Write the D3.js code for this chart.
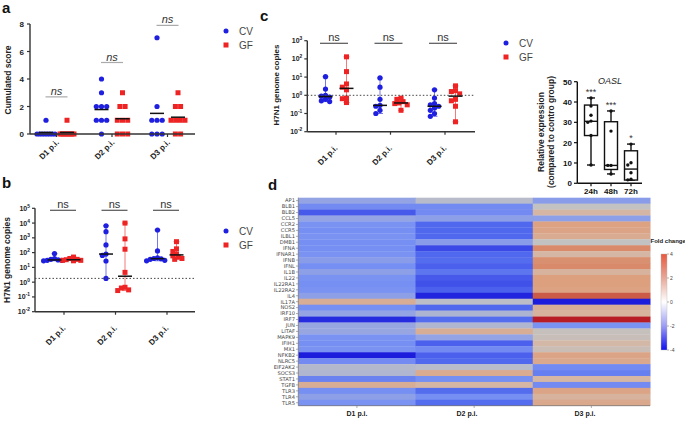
<!DOCTYPE html>
<html><head><meta charset="utf-8">
<script src="https://cdn.jsdelivr.net/npm/d3@7"></script>
<style>
body{margin:0;background:#fff;}
svg{font-family:"Liberation Sans",Arial,sans-serif;}
</style></head><body>
<svg id="chart" width="685" height="429"></svg>
<script>
// ---------------- DATA ----------------
const days = ["D1 p.i.","D2 p.i.","D3 p.i."];
const groups = ["CV","GF"];
// panel a: cumulated score
const scoreCV = [[1,0,0,0,0,0,0,0,0],[4,3,2,2,2,1,1,1,0],[7,2,1,1,1,0,0,0]];
const scoreGF = [[1,0,0,0,0,0,0,0,0],[3,2,2,1,1,1,0,0,0],[3,2,2,1,1,1,1,0,0]];
const scoreTicks = [0,2,4,6,8];
// panel b: H7N1 genome copies
const bCV = [[85,40,35,32,30,30,28],[6500,2600,330,80,65,27,1.8],[3400,130,45,40,38,35,30,28]];
const bGF = [[50,40,35,33,30,30,28],[10000,850,170,4.6,0.45,0.4,0.3,0.27],[550,180,120,80,60,50,40,35]];
const bLimit = 1.8;
// panel c: H7N1 genome copies
const cCV = [[10.5,2.2,1.0,0.9,0.8,0.6,0.5,0.45],[9,2.8,0.6,0.28,0.25,0.15,0.1],[2.0,0.7,0.35,0.3,0.25,0.2,0.15,0.1,0.07]];
const cGF = [[130,20,4.2,2.8,2.0,0.7,0.65,0.4],[0.7,0.6,0.45,0.38,0.35,0.3,0.15],[3.3,1.8,1.6,1.2,0.6,0.5,0.25,0.035]];
const cLimit = 1;
// OASL inset
const oaslTimes = ["24h","48h","72h"];
const oaslBox = [[9,23.5,30.5,38.5,42],[4.6,6.8,8.8,30.3,35.6],[1.6,1.6,7,16,19.3]]; // min,q1,median,q3,max
const oaslPts = [[42,38,33.5,30.6,30,23.5,9],[35.6,25.7,8.8,8.8,4.6],[19.3,10.1,9,5.2,2,1.7]];
const oaslStars = ["***","***","*"];
const oaslTicks = [0,10,20,30,40,50];
// panel d heatmap
const genes = ["AP1","BLB1","BLB2","CCL5","CCR2","CCR5","ILBL1","DMB1","IFNA","IFNAR1","IFNB","IFNL","IL1B","IL22","IL22RA1","IL22RA2","IL4","IL17A","NOS2","IRF10","IRF7","JUN","LITAF","MAPK9","IFIH1","MX1","NFKB2","NLRC5","EIF2AK2","SOCS3","STAT1","TGFB","TLR3","TLR4","TLR5"];
const fcD1 = [-1.3,-2.2,-3.2,-1.3,-2.0,-2.1,-2.0,-2.1,-2.1,-2.0,-1.6,-2.1,-1.5,-2.0,-2.1,-2.0,-1.5,1.4,-2.1,-1.3,-3.8,-1.2,-1.2,-2.0,-2.1,-2.0,-4.0,-2.2,-0.4,-0.5,-2.4,1.4,-2.1,-1.5,-2.0];
const fcD2 = [-0.3,-2.2,-2.2,-1.5,-3.0,-3.0,-3.0,-1.6,-3.4,-3.0,-2.9,-3.1,-2.7,-3.2,-3.3,-3.1,-3.9,-0.2,-3.0,-0.6,-2.9,-0.5,1.4,-1.3,-3.1,-2.2,-3.1,-3.0,-0.3,1.5,-2.1,1.0,-2.9,-2.1,-2.9];
const fcD3 = [-1.6,0.0,1.0,-1.5,1.9,1.8,1.5,0.0,2.4,1.0,2.3,2.4,1.2,2.0,2.0,1.9,3.2,-4.0,1.3,1.2,4.0,-2.0,0.2,0.3,0.9,0.4,1.8,1.6,-2.2,-2.5,1.0,-2.2,1.8,1.2,1.6];
const legendTicks = [4,2,0,-2,-4];

// ---------------- HELPERS ----------------
const svg = d3.select("#chart");
const blue = "#1f1fe0", red = "#ee2424", axisCol = "#333";

function panelLetter(t,x,y){
  svg.append("text").attr("x",x).attr("y",y).attr("font-size",15).attr("font-weight","bold").attr("fill","#111").text(t);
}
function legend(x,y){
  const g = svg.append("g");
  g.append("circle").attr("cx",x).attr("cy",y).attr("r",2.5).attr("fill",blue);
  g.append("rect").attr("x",x-2.5).attr("y",y+14-2.5).attr("width",5).attr("height",5).attr("fill",red);
  g.append("text").attr("x",x+13).attr("y",y+3.5).attr("font-size",10).attr("fill","#444").text("CV");
  g.append("text").attr("x",x+13).attr("y",y+17.5).attr("font-size",10).attr("fill","#444").text("GF");
}
function rowSwarm(vals,y,cx,maxW){
  const pts = vals.map(v=>({v,y:y(v)}));
  const rows = d3.groups(pts,p=>p.v);
  rows.forEach(([v,row])=>{
    const n=row.length, sp = n>1?Math.min(5.2,maxW/(n-1)):0;
    row.forEach((p,i)=>p.x=cx+(i-(n-1)/2)*sp);
  });
  return pts;
}
function greedySwarm(vals,y,cx,r,tight){
  const pts = vals.map(v=>({v,y:y(v)})).sort((a,b)=>a.y-b.y);
  const placed=[]; const s=2*r*tight, minD=2*r*tight*0.95;
  const cands=[0,-0.5,0.5,-1,1,-1.5,1.5,-2,2,-2.5,2.5,-3,3];
  pts.forEach(p=>{
    for(const c of cands){
      const x=cx+c*s;
      if(placed.every(q=>Math.hypot(q.x-x,q.y-p.y)>=minD)){p.x=x;break;}
    }
    if(p.x===undefined)p.x=cx;
    placed.push(p);
  });
  return pts;
}
function drawPoints(g,pts,kind,col){
  if(kind==="circle") g.selectAll(null).data(pts).join("circle").attr("cx",d=>d.x).attr("cy",d=>d.y).attr("r",2.6).attr("fill",col);
  else g.selectAll(null).data(pts).join("rect").attr("x",d=>d.x-2.5).attr("y",d=>d.y-2.5).attr("width",5).attr("height",5).attr("fill",col);
}
function rotLabels(x,ay,fs,dx,dy){
  days.forEach(d=>{
    svg.append("text").attr("transform",`translate(${x(d)+dx},${ay+dy}) rotate(-45)`)
      .attr("text-anchor","end").attr("font-size",fs).attr("font-weight","bold").attr("fill","#222").text(d);
  });
}
function yTitle(t,x,y,fs){
  svg.append("text").attr("transform",`translate(${x},${y}) rotate(-90)`).attr("text-anchor","middle")
    .attr("font-size",fs).attr("font-weight","bold").attr("fill","#222").text(t);
}
function logAxis(y,x0,decs,fs){
  const g=svg.append("g");
  g.append("line").attr("x1",x0).attr("x2",x0).attr("y1",y(Math.pow(10,decs[decs.length-1]))).attr("y2",y(Math.pow(10,decs[0]))).attr("stroke",axisCol).attr("stroke-width",1.4);
  decs.forEach(e=>{
    const yy=y(Math.pow(10,e));
    g.append("line").attr("x1",x0-3).attr("x2",x0).attr("y1",yy).attr("y2",yy).attr("stroke",axisCol).attr("stroke-width",1.2);
    const t=g.append("text").attr("x",x0-5).attr("y",yy+2.5).attr("text-anchor","end").attr("font-size",fs).attr("font-weight","bold").attr("fill","#222");
    t.append("tspan").text("10");
    t.append("tspan").attr("dy",-3).attr("font-size",fs*0.7).text(e);
  });
}
function xAxisLine(x0,x1,ay,ticks){
  svg.append("line").attr("x1",x0).attr("x2",x1).attr("y1",ay).attr("y2",ay).attr("stroke",axisCol).attr("stroke-width",1.4);
  ticks.forEach(t=>svg.append("line").attr("x1",t).attr("x2",t).attr("y1",ay).attr("y2",ay+3).attr("stroke",axisCol).attr("stroke-width",1.2));
}
function nsMark(cx,ly,w,italic,fs,lineCol){
  svg.append("line").attr("x1",cx-w/2).attr("x2",cx+w/2).attr("y1",ly).attr("y2",ly).attr("stroke",lineCol).attr("stroke-width",1.2);
  svg.append("text").attr("x",cx).attr("y",ly-2).attr("text-anchor","middle").attr("font-size",fs)
    .attr("font-style",italic?"italic":"normal").attr("fill","#333").text("ns");
}
function rangeBar(g,x,vals,y,col){
  const lo=y(d3.min(vals)), hi=y(d3.max(vals));
  g.append("line").attr("x1",x).attr("x2",x).attr("y1",lo).attr("y2",hi).attr("stroke",col).attr("stroke-width",1).attr("opacity",0.6);
  [lo,hi].forEach(v=>g.append("line").attr("x1",x-3).attr("x2",x+3).attr("y1",v).attr("y2",v).attr("stroke",col).attr("stroke-width",1).attr("opacity",0.6));
}
function medLine(g,x,v,w){
  g.append("line").attr("x1",x-w/2).attr("x2",x+w/2).attr("y1",v).attr("y2",v).attr("stroke","#111").attr("stroke-width",1.5);
}

// ---------------- PANEL A ----------------
panelLetter("a",2,13);
{
  const y=d3.scaleLinear().domain([0,8]).range([134,24]);
  const x=d3.scalePoint().domain(days).range([56.5,167.5]);
  const g=svg.append("g");
  g.append("line").attr("x1",30).attr("x2",30).attr("y1",y(8)).attr("y2",y(0)).attr("stroke",axisCol).attr("stroke-width",1.4);
  scoreTicks.forEach(t=>{
    g.append("line").attr("x1",27).attr("x2",30).attr("y1",y(t)).attr("y2",y(t)).attr("stroke",axisCol).attr("stroke-width",1.2);
    g.append("text").attr("x",24).attr("y",y(t)+3).attr("text-anchor","end").attr("font-size",8).attr("font-weight","bold").attr("fill","#222").text(t);
  });
  xAxisLine(30,195,134,days.map(d=>x(d)));
  days.forEach((d,i)=>{
    drawPoints(g,rowSwarm(scoreCV[i],y,x(d)-10.5,18),"circle",blue);
    drawPoints(g,rowSwarm(scoreGF[i],y,x(d)+10.5,14),"rect",red);
    medLine(g,x(d)-10.5,y(d3.mean(scoreCV[i])),14);
    medLine(g,x(d)+10.5,y(d3.mean(scoreGF[i])),14);
  });
  nsMark(x(days[0]),y(2.7),22,true,11,"#aaa");
  nsMark(x(days[1]),y(5.2),22,true,11,"#aaa");
  nsMark(x(days[2]),y(7.9),22,true,11,"#aaa");
  rotLabels(x,134,8,3,9);
  yTitle("Cumulated score",11,80,8.5);
  legend(226,31);
}

// ---------------- PANEL B ----------------
panelLetter("b",2,188);
{
  const y=d3.scaleLog().domain([1e-2,1e5]).range([311.7,208.3]);
  const x=d3.scalePoint().domain(days).range([64,167]);
  const g=svg.append("g");
  logAxis(y,35,[-2,-1,0,1,2,3,4,5],7);
  xAxisLine(35,195,311.7,days.map(d=>x(d)));
  svg.append("line").attr("x1",35).attr("x2",195).attr("y1",y(bLimit)).attr("y2",y(bLimit)).attr("stroke","#444").attr("stroke-width",1).attr("stroke-dasharray","1.5,2");
  days.forEach((d,i)=>{
    rangeBar(g,x(d)-9.5,bCV[i],y,blue);
    rangeBar(g,x(d)+9.5,bGF[i],y,red);
    drawPoints(g,greedySwarm(bCV[i],y,x(d)-9.5,2.6,0.7),"circle",blue);
    drawPoints(g,greedySwarm(bGF[i],y,x(d)+9.5,2.6,0.7),"rect",red);
    medLine(g,x(d)-9.5,y(d3.median(bCV[i])),14);
    medLine(g,x(d)+9.5,y(d3.median(bGF[i])),14);
    nsMark(x(d)-1,210.3,26,false,11,"#555");
  });
  rotLabels(x,311.7,8,2,17);
  yTitle("H7N1 genome copies",10,260,8.5);
  legend(226,231);
}

// ---------------- PANEL C ----------------
panelLetter("c",260,21);
{
  const y=d3.scaleLog().domain([1e-2,1e3]).range([131.7,40.7]);
  const x=d3.scalePoint().domain(days).range([336,445]);
  const g=svg.append("g");
  logAxis(y,307.3,[-2,-1,0,1,2,3],7);
  xAxisLine(307.3,475,131.7,days.map(d=>x(d)));
  svg.append("line").attr("x1",307.3).attr("x2",475).attr("y1",y(cLimit)).attr("y2",y(cLimit)).attr("stroke","#444").attr("stroke-width",1).attr("stroke-dasharray","1.5,2");
  days.forEach((d,i)=>{
    rangeBar(g,x(d)-10.5,cCV[i],y,blue);
    rangeBar(g,x(d)+10.5,cGF[i],y,red);
    drawPoints(g,greedySwarm(cCV[i],y,x(d)-10.5,2.6,0.8),"circle",blue);
    drawPoints(g,greedySwarm(cGF[i],y,x(d)+10.5,2.6,0.8),"rect",red);
    medLine(g,x(d)-10.5,y(d3.median(cCV[i])),14);
    medLine(g,x(d)+10.5,y(d3.median(cGF[i])),14);
    nsMark(x(d)-2,43.3,28,false,11,"#555");
  });
  rotLabels(x,131.7,8,2,17);
  yTitle("H7N1 genome copies",279,85,8);
  legend(506,43);
}

// ---------------- OASL INSET ----------------
{
  const y=d3.scaleLinear().domain([0,50]).range([183.3,81.7]);
  const x=d3.scalePoint().domain(oaslTimes).range([591,631]);
  const g=svg.append("g");
  g.append("line").attr("x1",577.3).attr("x2",577.3).attr("y1",y(50)).attr("y2",y(0)).attr("stroke","#111").attr("stroke-width",1.4);
  oaslTicks.forEach(t=>{
    g.append("line").attr("x1",574).attr("x2",577.3).attr("y1",y(t)).attr("y2",y(t)).attr("stroke","#111").attr("stroke-width",1.2);
    g.append("text").attr("x",572).attr("y",y(t)+3).attr("text-anchor","end").attr("font-size",8).attr("font-weight","bold").attr("fill","#111").text(t);
  });
  g.append("line").attr("x1",577.3).attr("x2",642).attr("y1",y(0)).attr("y2",y(0)).attr("stroke","#111").attr("stroke-width",1.4);
  oaslTimes.forEach((t,i)=>{
    const cx=x(t), b=oaslBox[i], w=13;
    g.append("line").attr("x1",cx).attr("x2",cx).attr("y1",y(0)).attr("y2",y(0)+3).attr("stroke","#111").attr("stroke-width",1.2);
    g.append("text").attr("x",cx).attr("y",y(0)+11).attr("text-anchor","middle").attr("font-size",8).attr("font-weight","bold").attr("fill","#111").text(t);
    g.append("line").attr("x1",cx).attr("x2",cx).attr("y1",y(b[0])).attr("y2",y(b[4])).attr("stroke","#111").attr("stroke-width",1.4);
    [b[0],b[4]].forEach(v=>g.append("line").attr("x1",cx-4).attr("x2",cx+4).attr("y1",y(v)).attr("y2",y(v)).attr("stroke","#111").attr("stroke-width",1.4));
    g.append("rect").attr("x",cx-w/2).attr("y",y(b[3])).attr("width",w).attr("height",y(b[1])-y(b[3])).attr("fill","#fff").attr("stroke","#111").attr("stroke-width",1.4);
    g.append("line").attr("x1",cx-w/2).attr("x2",cx+w/2).attr("y1",y(b[2])).attr("y2",y(b[2])).attr("stroke","#111").attr("stroke-width",1.4);
    const pts=greedySwarm(oaslPts[i],y,cx,1.6,1);
    g.selectAll(null).data(pts).join("circle").attr("cx",d=>d.x).attr("cy",d=>d.y).attr("r",1.7).attr("fill","#111");
    g.append("text").attr("x",cx).attr("y",y(b[4])-3).attr("text-anchor","middle").attr("font-size",9).attr("fill","#333").text(oaslStars[i]);
  });
  g.append("text").attr("x",610).attr("y",84).attr("text-anchor","middle").attr("font-size",9).attr("font-style","italic").attr("fill","#222").text("OASL");
  yTitle("Relative expression",543.5,132,8.5);
  yTitle("(compared to contro group)",553.5,132,8.5);
}

// ---------------- PANEL D ----------------
panelLetter("d",268,190);
{
  const x=d3.scaleBand().domain(days).range([298.3,650]);
  const y=d3.scaleBand().domain(genes).range([197.7,405.7]);
  const color=d3.scaleLinear().domain([-4,-3,-2,-1,0,1,2,3,4])
    .range(["#1c1cdc","#5068ee","#7a93f2","#9eaadc","#c2c2c2","#d5b6a4","#dda07e","#d06a4e","#b81c24"]);
  const cols=[fcD1,fcD2,fcD3];
  const g=svg.append("g");
  days.forEach((d,j)=>{
    g.selectAll(null).data(genes.map((gn,i)=>({gn,v:cols[j][i]}))).join("rect")
      .attr("x",x(d)).attr("y",r=>y(r.gn)).attr("width",x.bandwidth()+0.5).attr("height",y.bandwidth()+0.3)
      .attr("fill",r=>color(r.v));
  });
  const ax=svg.append("g");
  ax.append("line").attr("x1",298.3).attr("x2",298.3).attr("y1",197.7).attr("y2",405.7).attr("stroke","#777").attr("stroke-width",0.8);
  ax.append("line").attr("x1",298.3).attr("x2",650).attr("y1",405.7).attr("y2",405.7).attr("stroke","#777").attr("stroke-width",0.8);
  genes.forEach(gn=>{
    const yy=y(gn)+y.bandwidth()/2;
    ax.append("line").attr("x1",296).attr("x2",298.3).attr("y1",yy).attr("y2",yy).attr("stroke","#777").attr("stroke-width",0.6);
    ax.append("text").attr("x",295).attr("y",yy+1.8).attr("text-anchor","end").attr("font-size",5.2).attr("fill","#444")
      .attr("font-family","'DejaVu Sans'").text(gn);
  });
  const labX=[357,467,585];
  days.forEach((d,j)=>{
    const cx=x(d)+x.bandwidth()/2;
    ax.append("line").attr("x1",cx).attr("x2",cx).attr("y1",405.7).attr("y2",408).attr("stroke","#777").attr("stroke-width",0.6);
    ax.append("text").attr("x",labX[j]).attr("y",416).attr("text-anchor","middle").attr("font-size",7).attr("font-weight","bold").attr("fill","#222").text(d);
  });
  // colour legend
  const defs=svg.append("defs");
  const lg=defs.append("linearGradient").attr("id","fcg").attr("x1",0).attr("x2",0).attr("y1",0).attr("y2",1);
  [["0%","#e8583e"],["25%","#e7a898"],["50%","#ffffff"],["75%","#9c9cf4"],["100%","#1010f0"]].forEach(s=>lg.append("stop").attr("offset",s[0]).attr("stop-color",s[1]));
  const ly=d3.scaleLinear().domain([4,-4]).range([254,350]);
  svg.append("rect").attr("x",661).attr("y",254).attr("width",6).attr("height",96).attr("fill","url(#fcg)").attr("stroke","#bbb").attr("stroke-width",0.4);
  legendTicks.forEach(t=>{
    svg.append("line").attr("x1",667).attr("x2",669).attr("y1",ly(t)).attr("y2",ly(t)).attr("stroke","#666").attr("stroke-width",0.5);
    svg.append("text").attr("x",670).attr("y",ly(t)+1.8).attr("font-size",5).attr("fill","#444").text(t);
  });
  svg.append("text").attr("x",650.5).attr("y",242.5).attr("font-size",6).attr("font-weight","bold").attr("fill","#222").text("Fold change");
}
</script>
</body></html>
